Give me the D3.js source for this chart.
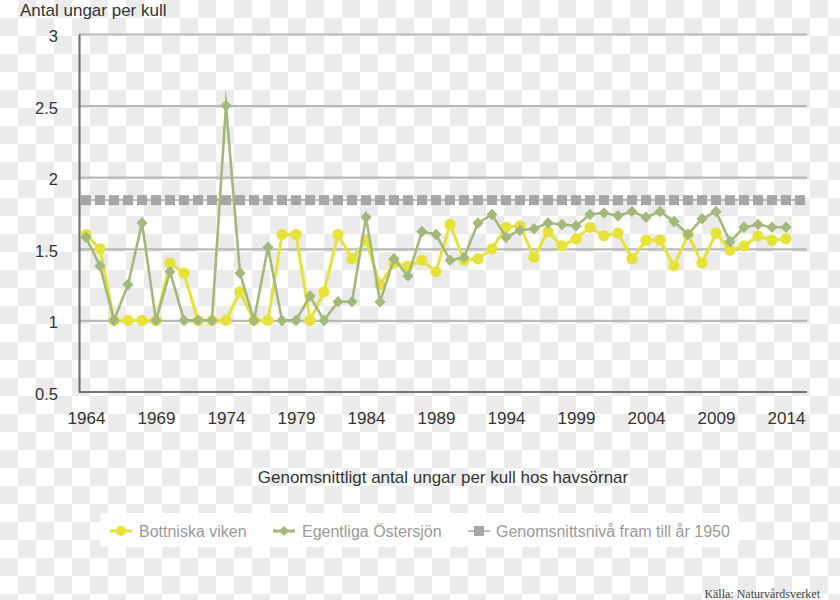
<!DOCTYPE html>
<html>
<head>
<meta charset="utf-8">
<script src="https://cdn.jsdelivr.net/npm/d3@7"></script>
<style>
  html, body { margin: 0; padding: 0; background: #ffffff; }
  svg { display: block; font-family: "Liberation Sans", Arial, Helvetica, sans-serif; }
</style>
</head>
<body>
<svg id="chart" width="840" height="600"></svg>
<script>
// ---------- DATA ----------
const years = [1964,1965,1966,1967,1968,1969,1970,1971,1972,1973,1974,1975,1976,1977,1978,1979,1980,1981,1982,1983,1984,1985,1986,1987,1988,1989,1990,1991,1992,1993,1994,1995,1996,1997,1998,1999,2000,2001,2002,2003,2004,2005,2006,2007,2008,2009,2010,2011,2012,2013,2014];
const bottniskaViken = [1.60,1.50,1.00,1.00,1.00,1.00,1.40,1.33,1.00,1.00,1.00,1.20,1.00,1.00,1.60,1.60,1.00,1.20,1.60,1.43,1.56,1.25,1.40,1.38,1.42,1.34,1.67,1.42,1.43,1.50,1.65,1.66,1.44,1.62,1.52,1.57,1.65,1.59,1.61,1.43,1.56,1.56,1.38,1.60,1.40,1.61,1.49,1.52,1.59,1.56,1.57];
const egentligaOstersjon = [1.58,1.38,1.00,1.25,1.68,1.00,1.34,1.00,1.00,1.00,2.50,1.33,1.00,1.51,1.00,1.00,1.17,1.00,1.13,1.13,1.72,1.13,1.43,1.31,1.62,1.60,1.42,1.44,1.68,1.74,1.58,1.63,1.64,1.68,1.67,1.66,1.74,1.75,1.73,1.76,1.72,1.76,1.69,1.60,1.71,1.76,1.55,1.65,1.67,1.65,1.65];
const refYears = [1964,1965,1966,1967,1968,1969,1970,1971,1972,1973,1974,1975,1976,1977,1978,1979,1980,1981,1982,1983,1984,1985,1986,1987,1988,1989,1990,1991,1992,1993,1994,1995,1996,1997,1998,1999,2000,2001,2002,2003,2004,2005,2006,2007,2008,2009,2010,2011,2012,2013,2014,2015];
const refLevel = [1.84,1.84,1.84,1.84,1.84,1.84,1.84,1.84,1.84,1.84,1.84,1.84,1.84,1.84,1.84,1.84,1.84,1.84,1.84,1.84,1.84,1.84,1.84,1.84,1.84,1.84,1.84,1.84,1.84,1.84,1.84,1.84,1.84,1.84,1.84,1.84,1.84,1.84,1.84,1.84,1.84,1.84,1.84,1.84,1.84,1.84,1.84,1.84,1.84,1.84,1.84,1.84];
const xTickYears = [1964,1969,1974,1979,1984,1989,1994,1999,2004,2009,2014];
const yTicks = [0.5,1,1.5,2,2.5,3];
const seriesNames = ["Bottniska viken","Egentliga Östersjön","Genomsnittsnivå fram till år 1950"];
const yTitle = "Antal ungar per kull";
const chartTitle = "Genomsnittligt antal ungar per kull hos havsörnar";
const sourceText = "Källa: Naturvårdsverket";

// ---------- STYLE ----------
const cYellow = "#e6e23a";
const cGreen = "#a3b87b";
const cRef = "#a6a6a6";
const cAxis = "#747474";
const cGrid = "#b9b9b9";
const cText = "#333333";

const svg = d3.select("#chart");
const W = 840, H = 600;

// checkerboard background
const defs = svg.append("defs");
const pat = defs.append("pattern").attr("id","checker").attr("patternUnits","userSpaceOnUse")
  .attr("width",36).attr("height",36);
pat.append("rect").attr("width",36).attr("height",36).attr("fill","#ffffff");
pat.append("rect").attr("x",18).attr("y",0).attr("width",18).attr("height",18).attr("fill","#ebebeb");
pat.append("rect").attr("x",0).attr("y",18).attr("width",18).attr("height",18).attr("fill","#ebebeb");
svg.append("rect").attr("width",W).attr("height",H).attr("fill","url(#checker)");

const mLeft = 79, mRight = 807, mTop = 34, mBottom = 392;
const x = d3.scalePoint().domain(refYears).range([mLeft, mRight]).padding(0.5);
const y = d3.scaleLinear().domain([0.5, 3]).range([mBottom, mTop]);

// gridlines
const grid = svg.append("g").attr("transform",`translate(${mLeft},0)`)
  .call(d3.axisLeft(y).tickValues(yTicks.filter(v => v > 0.5)).tickSize(-(mRight-mLeft)).tickFormat(""));
grid.select(".domain").remove();
grid.selectAll("line").attr("stroke",cGrid).attr("stroke-width",2.2);

// y axis
const yAxis = svg.append("g").attr("transform",`translate(${mLeft},0)`)
  .call(d3.axisLeft(y).tickValues(yTicks).tickSize(0).tickPadding(21).tickFormat(d3.format("")));
yAxis.select(".domain").attr("stroke",cAxis).attr("stroke-width",2.2);
yAxis.selectAll("text").attr("fill",cText).style("font-size","16.5px").attr("dy","0.45em");

// x axis
const xAxis = svg.append("g").attr("transform",`translate(0,${mBottom})`)
  .call(d3.axisBottom(x).tickValues(xTickYears).tickSize(0).tickPadding(20));
xAxis.select(".domain").attr("stroke",cAxis).attr("stroke-width",2.2)
  .attr("d",`M${mLeft},0H${mRight}`);
xAxis.selectAll("text").attr("fill",cText).style("font-size","17px");

// reference series
const refData = refYears.map((yr,i) => ({year: yr, value: refLevel[i]}));
svg.append("path").datum(refData)
  .attr("fill","none").attr("stroke",cRef).attr("stroke-width",1.5)
  .attr("d", d3.line().x(d => x(d.year)).y(d => y(d.value)));
svg.append("g").selectAll("rect").data(refData).join("rect")
  .attr("x", d => x(d.year) - 5).attr("y", d => y(d.value) - 5)
  .attr("width",10).attr("height",10).attr("fill",cRef);

// Bottniska viken
const bData = years.map((yr,i) => ({year: yr, value: bottniskaViken[i]}));
svg.append("path").datum(bData)
  .attr("fill","none").attr("stroke",cYellow).attr("stroke-width",3)
  .attr("stroke-linejoin","miter").attr("stroke-miterlimit",12)
  .attr("d", d3.line().x(d => x(d.year)).y(d => y(d.value)));
svg.append("g").selectAll("circle").data(bData).join("circle")
  .attr("cx", d => x(d.year)).attr("cy", d => y(d.value)).attr("r",5.6).attr("fill",cYellow);

// Egentliga Östersjön
const gData = years.map((yr,i) => ({year: yr, value: egentligaOstersjon[i]}));
svg.append("path").datum(gData)
  .attr("fill","none").attr("stroke",cGreen).attr("stroke-width",2.6)
  .attr("stroke-linejoin","miter").attr("stroke-miterlimit",15)
  .attr("d", d3.line().x(d => x(d.year)).y(d => y(d.value)));
const diamond = "M0,-5.8L5.6,0L0,5.8L-5.6,0Z";
svg.append("g").selectAll("path").data(gData).join("path")
  .attr("d", diamond)
  .attr("transform", d => `translate(${x(d.year)},${y(d.value)})`)
  .attr("fill",cGreen);

// titles
svg.append("text").attr("x",20).attr("y",15.5).attr("fill",cText)
  .style("font-size","17px").text(yTitle);
svg.append("text").attr("x",443).attr("y",483).attr("text-anchor","middle").attr("fill",cText)
  .style("font-size","17px").text(chartTitle);

// legend
const lg = svg.append("g");
lg.append("rect").attr("x",100).attr("y",513).attr("width",639).attr("height",34).attr("rx",4)
  .attr("fill","#ffffff");
const legendItems = [
  {name: seriesNames[0], color: cYellow, x0: 110, tx: 139, kind: "circle"},
  {name: seriesNames[1], color: cGreen, x0: 273, tx: 302, kind: "diamond"},
  {name: seriesNames[2], color: cRef, x0: 468, tx: 496, kind: "square"}
];
const ly = 531;
legendItems.forEach(it => {
  lg.append("line").attr("x1",it.x0).attr("x2",it.x0+22).attr("y1",ly).attr("y2",ly)
    .attr("stroke",it.color).attr("stroke-width", it.kind === "square" ? 1.5 : 3);
  const cx = it.x0 + 11;
  if (it.kind === "circle") {
    lg.append("circle").attr("cx",cx).attr("cy",ly).attr("r",5).attr("fill",it.color);
  } else if (it.kind === "diamond") {
    lg.append("path").attr("d","M0,-5L5,0L0,5L-5,0Z").attr("transform",`translate(${cx},${ly})`).attr("fill",it.color);
  } else {
    lg.append("rect").attr("x",cx-5).attr("y",ly-5).attr("width",10).attr("height",10).attr("fill",it.color);
  }
  lg.append("text").attr("x",it.tx).attr("y",ly+6).attr("fill","#9a9a9a")
    .style("font-size","16px").text(it.name);
});

// source
svg.append("text").attr("x",820).attr("y",598).attr("text-anchor","end").attr("fill","#444")
  .style("font-family","'Liberation Serif', 'Times New Roman', serif").style("font-size","12px")
  .text(sourceText);
</script>
</body>
</html>
